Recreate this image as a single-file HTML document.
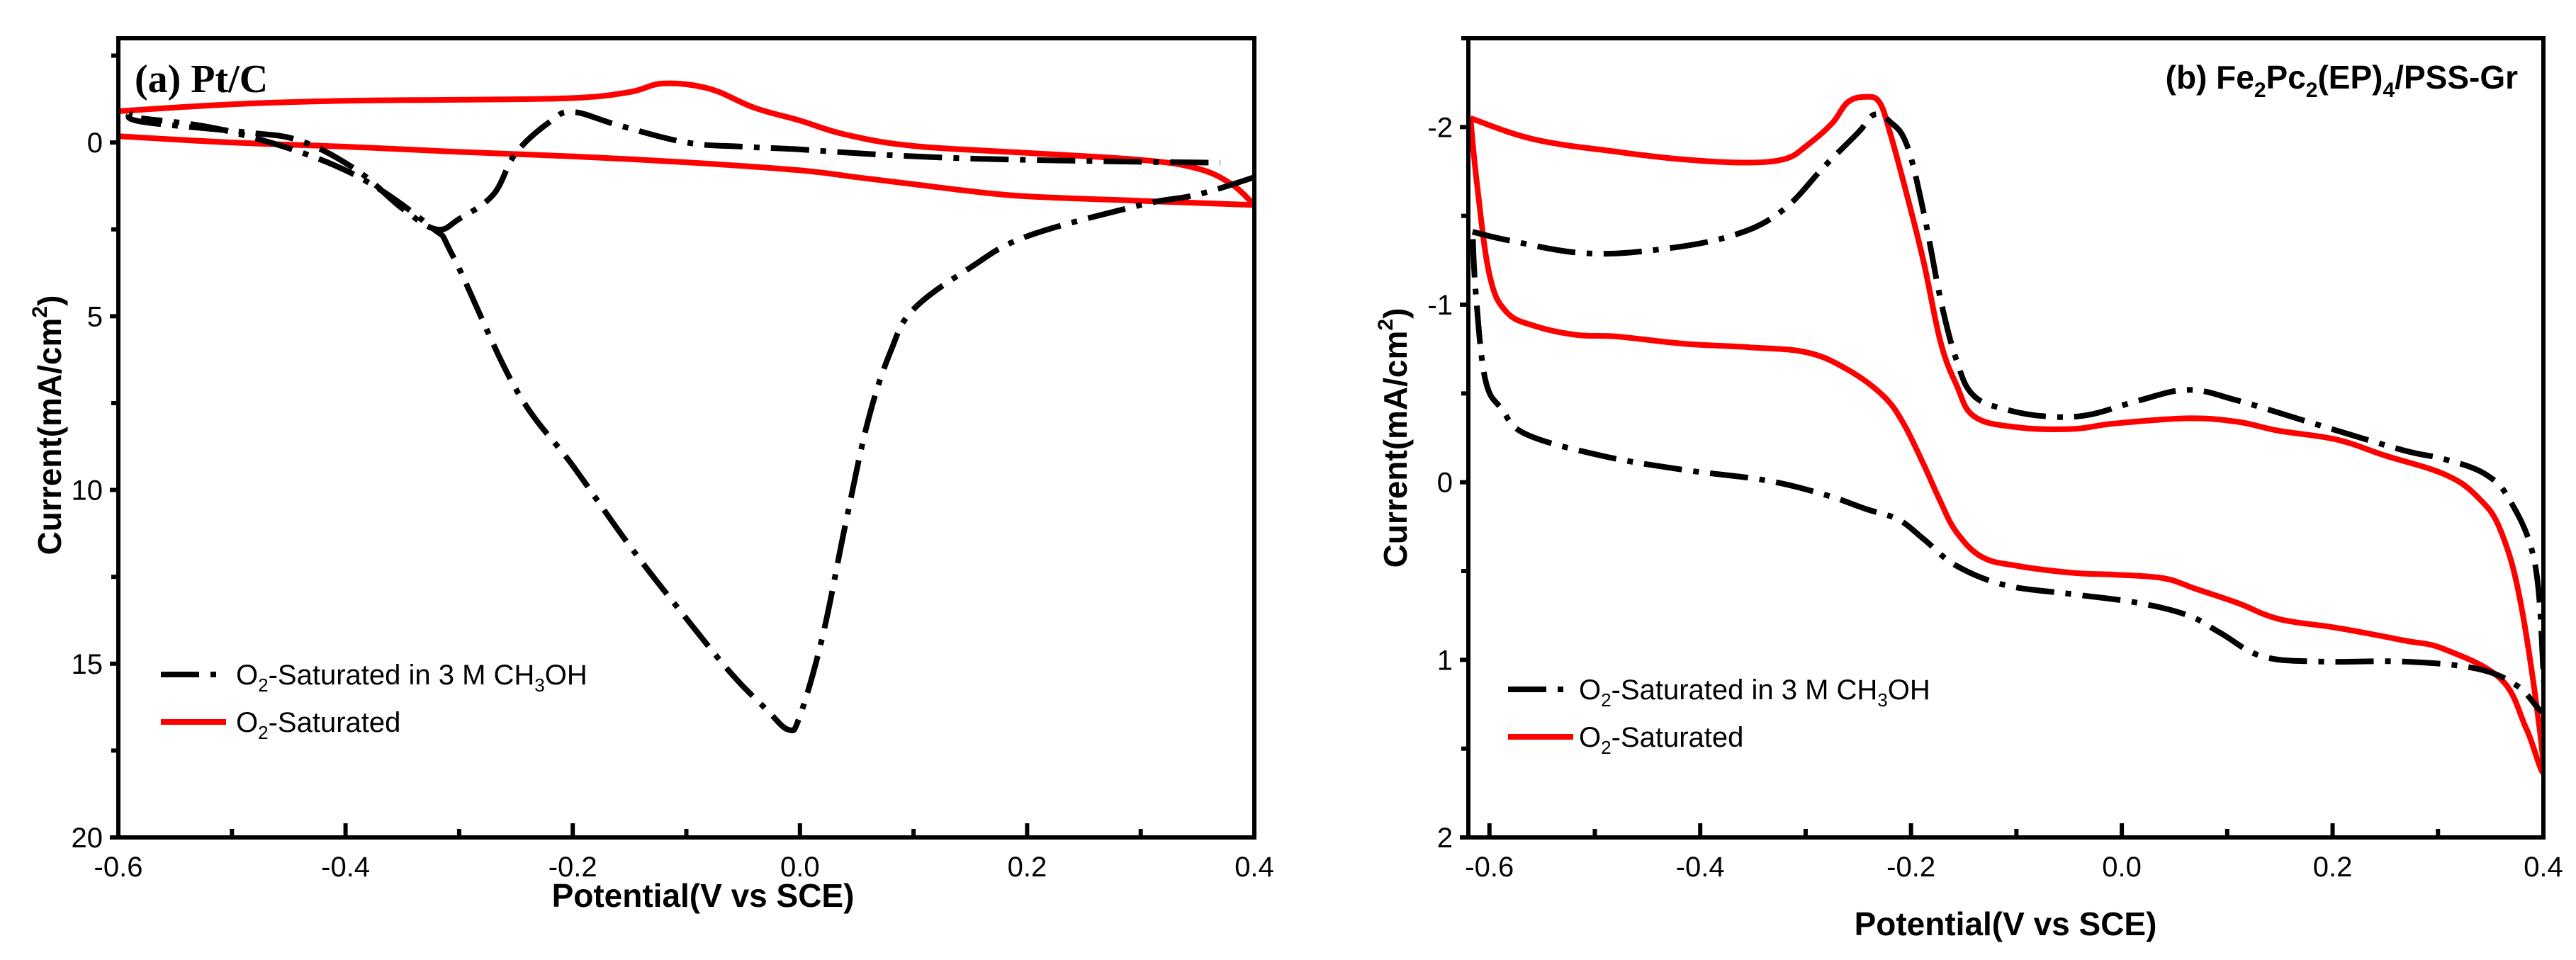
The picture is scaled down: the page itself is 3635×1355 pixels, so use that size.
<!DOCTYPE html>
<html><head><meta charset="utf-8"><style>
html,body{margin:0;padding:0;background:#fff;}
svg{display:block;font-family:"Liberation Sans",sans-serif;}
</style></head><body>
<svg id="fig" width="3635" height="1355" viewBox="0 0 3635 1355"></svg>
<script>
// Panel (a) data
const aRedUpperV=[-0.6,-0.5,-0.4,-0.3,-0.2,-0.15,-0.12,-0.08,-0.04,0,0.04,0.1,0.2,0.3,0.35,0.38,0.4];
const aRedUpperI=[-0.9,-1.1,-1.2,-1.23,-1.28,-1.45,-1.7,-1.55,-1.0,-0.63,-0.23,0.1,0.3,0.5,0.75,1.2,1.8];
const aRedLowerV=[0.4,0.3,0.2,0.15,0.1,0.05,0,-0.1,-0.2,-0.3,-0.4,-0.5,-0.6];
const aRedLowerI=[1.8,1.68,1.55,1.4,1.2,1.0,0.8,0.57,0.4,0.27,0.12,0,-0.18];
const aBlkFwdV=[-0.59,-0.58,-0.49,-0.44,-0.39,-0.35,-0.32,-0.3,-0.27,-0.25,-0.22,-0.2,-0.16,-0.1,-0.05,0,0.06,0.13,0.2,0.31,0.37];
const aBlkFwdI=[-0.85,-0.6,-0.3,-0.05,0.8,1.9,2.5,2.2,1.5,0.3,-0.6,-0.88,-0.5,0,0.12,0.2,0.33,0.44,0.5,0.56,0.58];
const aBlkRevV=[0.4,0.35,0.3,0.2,0.15,0.1,0.08,0.06,0.04,0.02,0,-0.01,-0.03,-0.06,-0.1,-0.15,-0.2,-0.25,-0.305,-0.326,-0.4,-0.5,-0.58];
const aBlkRevI=[1.0,1.5,1.8,2.7,3.6,4.8,6.0,8.0,11,14.2,16.5,16.9,16.3,15.3,13.7,11.6,9.3,7.1,3.3,2.4,0.8,-0.3,-0.7];
// Panel (b) data
const bRedV=[-0.618,-0.557,-0.478,-0.42,-0.36,-0.32,-0.298,-0.275,-0.26,-0.243,-0.23,-0.22,-0.204,-0.188,-0.172,-0.157,-0.14,-0.1,-0.047,-0.008,0.063,0.11,0.149,0.204,0.25,0.306,0.337,0.36,0.38,0.4,
 0.384,0.36,0.306,0.267,0.204,0.149,0.11,0.07,0.039,-0.008,-0.047,-0.1,-0.133,-0.157,-0.172,-0.188,-0.208,-0.227,-0.259,-0.298,-0.353,-0.416,-0.478,-0.518,-0.557,-0.584,-0.6,-0.612,-0.618];
const bRedI=[-2.05,-1.93,-1.86,-1.82,-1.8,-1.82,-1.9,-2.02,-2.14,-2.17,-2.14,-1.97,-1.62,-1.24,-0.79,-0.55,-0.37,-0.31,-0.3,-0.33,-0.36,-0.34,-0.29,-0.24,-0.15,-0.045,0.08,0.28,0.73,1.6,
 1.39,1.11,0.94,0.89,0.82,0.77,0.68,0.6,0.54,0.52,0.51,0.47,0.42,0.28,0.11,-0.1,-0.34,-0.49,-0.63,-0.73,-0.76,-0.78,-0.82,-0.83,-0.88,-0.96,-1.17,-1.69,-2.05];
const bBlkV=[-0.616,-0.58,-0.51,-0.44,-0.369,-0.322,-0.282,-0.25,-0.235,-0.22,-0.204,-0.188,-0.172,-0.157,-0.141,-0.11,-0.07,-0.031,0.016,0.063,0.11,0.188,0.267,0.306,0.345,0.369,0.392,0.4,0.4,
 0.376,0.337,0.267,0.188,0.133,0.094,0.063,0.016,-0.047,-0.11,-0.157,-0.188,-0.212,-0.243,-0.282,-0.337,-0.416,-0.494,-0.565,-0.588,-0.604,-0.613,-0.616];
const bBlkI=[-1.41,-1.36,-1.29,-1.31,-1.39,-1.53,-1.78,-1.97,-2.07,-2.03,-1.9,-1.52,-1.03,-0.69,-0.49,-0.41,-0.37,-0.38,-0.46,-0.52,-0.46,-0.32,-0.18,-0.13,-0.045,0.11,0.46,1.08,1.29,
 1.15,1.05,1.01,1.01,0.98,0.85,0.75,0.68,0.63,0.58,0.47,0.32,0.21,0.15,0.07,-0.01,-0.07,-0.15,-0.27,-0.41,-0.58,-1.07,-1.41];
const aXTicks=["-0.6","-0.4","-0.2","0.0","0.2","0.4"];
const aYTicks=["0","5","10","15","20"];
const bXTicks=["-0.6","-0.4","-0.2","0.0","0.2","0.4"];
const bYTicks=["-2","-1","0","1","2"];

const NS="http://www.w3.org/2000/svg";
const svg=document.getElementById('fig');
function mk(tag,attrs,parent){const e=document.createElementNS(NS,tag);for(const k in attrs)e.setAttribute(k,attrs[k]);(parent||svg).appendChild(e);return e;}
function lin(d0,d1,p0,p1){return v=>p0+(v-d0)*(p1-p0)/(d1-d0);}
function pathD(xs,ys,sx,sy){
  const P=xs.map((v,i)=>[sx(v),sy(ys[i])]);
  let d='M'+P[0][0].toFixed(1)+' '+P[0][1].toFixed(1);
  const k=0.18;
  for(let i=0;i<P.length-1;i++){
    const p0=P[Math.max(i-1,0)],p1=P[i],p2=P[i+1],p3=P[Math.min(i+2,P.length-1)];
    const c1=[p1[0]+(p2[0]-p0[0])*k,p1[1]+(p2[1]-p0[1])*k];
    const c2=[p2[0]-(p3[0]-p1[0])*k,p2[1]-(p3[1]-p1[1])*k];
    d+=' C'+c1[0].toFixed(1)+' '+c1[1].toFixed(1)+' '+c2[0].toFixed(1)+' '+c2[1].toFixed(1)+' '+p2[0].toFixed(1)+' '+p2[1].toFixed(1);
  }
  return d;
}
const DASH='54 16 8 16';

function panel(o){
  const g=mk('g',{});
  
  
  const sx=lin(o.xmin,o.xmax,o.L,o.R), sy=lin(o.ymin,o.ymax,o.T,o.B);
  const clipId=o.name+'-clip';
  const cp=mk('clipPath',{id:clipId},g); mk('rect',{x:o.L,y:o.T,width:o.R-o.L,height:o.B-o.T},cp);
  const sg=mk('g',{'clip-path':'url(#'+clipId+')'},g);
  o.series.forEach(s=>{
    const p=mk('path',{d:pathD(s.x,s.y,sx,sy),fill:'none',stroke:s.c,'stroke-width':8,'stroke-linejoin':'round','stroke-dasharray':s.dash||'none'},sg);
    
    
  });
  const fr=mk('rect',{x:o.L,y:o.T,width:o.R-o.L,height:o.B-o.T,fill:'none',stroke:'#000','stroke-width':6},g);
  
  
  o.xt.forEach(t=>{const v=parseFloat(t),x=sx(v);
    mk('line',{x1:x,y1:o.B,x2:x,y2:o.B-20,stroke:'#000','stroke-width':6},g);
    const mx=sx(v+0.1); if(v+0.1<=o.xmax+1e-9) mk('line',{x1:mx,y1:o.B,x2:mx,y2:o.B-12,stroke:'#000','stroke-width':6},g);
    const tx=mk('text',{x:x,y:o.B+55,'font-size':40,'text-anchor':'middle'},g);tx.textContent=t;
    
    
  });
  o.yt.forEach(t=>{const v=parseFloat(t),y=sy(v);
    mk('line',{x1:o.L,y1:y,x2:o.L-12,y2:y,stroke:'#000','stroke-width':6},g);
    const mv=v-o.ystep/2,my=sy(mv); if(my>=o.T) mk('line',{x1:o.L,y1:my,x2:o.L-10,y2:my,stroke:'#000','stroke-width':6},g);
    const tx=mk('text',{x:o.L-22,y:y+14,'font-size':40,'text-anchor':'end'},g);tx.textContent=t;
    
    
  });
  return {g,sx,sy};
}

panel({name:'panel-a',L:167,R:1770,T:54,B:1182,xmin:-0.6,xmax:0.4,ymin:-3,ymax:20,ystep:5,xt:aXTicks,yt:aYTicks,
  series:[{x:aRedUpperV,y:aRedUpperI,c:'#ff0000',n:'a-red-upper'},{x:aRedLowerV,y:aRedLowerI,c:'#ff0000',n:'a-red-lower'},
  {x:aBlkFwdV,y:aBlkFwdI,c:'#000',n:'a-black-forward',dash:DASH},{x:aBlkRevV,y:aBlkRevI,c:'#000',n:'a-black-reverse',dash:DASH}]});
panel({name:'panel-b',L:2072,R:3589,T:54,B:1182,xmin:-0.62,xmax:0.4,ymin:-2.5,ymax:2,ystep:1,xt:bXTicks,yt:bYTicks,
  series:[{x:bRedV,y:bRedI,c:'#ff0000',n:'b-red-loop'},{x:bBlkV,y:bBlkI,c:'#000',n:'b-black-loop',dash:DASH}]});

function txt(html,attrs,name){const t=mk('text',attrs);t.innerHTML=html;return t;}
txt('(a) Pt/C',{x:190,y:130,'font-size':56,'font-weight':'bold','font-family':'"Liberation Serif",serif'},'panel-a-title');
txt('(b) Fe<tspan font-size="30" dy="12">2</tspan><tspan dy="-12">Pc</tspan><tspan font-size="30" dy="12">2</tspan><tspan dy="-12">(EP)</tspan><tspan font-size="30" dy="12">4</tspan><tspan dy="-12">/PSS-Gr</tspan>',{x:3553,y:125,'font-size':46,'font-weight':'bold','text-anchor':'end'},'panel-b-title');
txt('Potential(V vs SCE)',{x:992,y:1280,'font-size':46,'font-weight':'bold','text-anchor':'middle'},'a-x-axis-title');
txt('Potential(V vs SCE)',{x:2830,y:1320,'font-size':46,'font-weight':'bold','text-anchor':'middle'},'b-x-axis-title');
txt('Current(mA/cm<tspan font-size="30" dy="-20">2</tspan><tspan dy="20">)</tspan>',{x:0,y:0,'font-size':46,'font-weight':'bold','text-anchor':'middle',transform:'translate(86,600) rotate(-90)'},'a-y-axis-title');
txt('Current(mA/cm<tspan font-size="30" dy="-20">2</tspan><tspan dy="20">)</tspan>',{x:0,y:0,'font-size':46,'font-weight':'bold','text-anchor':'middle',transform:'translate(1985,618) rotate(-90)'},'b-y-axis-title');

function legend(x0,y0,y1,tx){
  const l1=mk('line',{x1:x0,y1:y0,x2:x0+92,y2:y0,stroke:'#000','stroke-width':8,'stroke-dasharray':DASH});
  
  txt('O<tspan font-size="26" dy="10">2</tspan><tspan dy="-10">-Saturated in 3 M CH</tspan><tspan font-size="26" dy="10">3</tspan><tspan dy="-10">OH</tspan>',{x:tx,y:y0+14,'font-size':40},'legend-methanol-label');
  const l2=mk('line',{x1:x0,y1:y1,x2:x0+92,y2:y1,stroke:'#ff0000','stroke-width':8});
  
  txt('O<tspan font-size="26" dy="10">2</tspan><tspan dy="-10">-Saturated</tspan>',{x:tx,y:y1+14,'font-size':40},'legend-o2-label');
}
legend(227,952,1019,333);
legend(2128,973,1040,2228);
</script>
</body></html>
